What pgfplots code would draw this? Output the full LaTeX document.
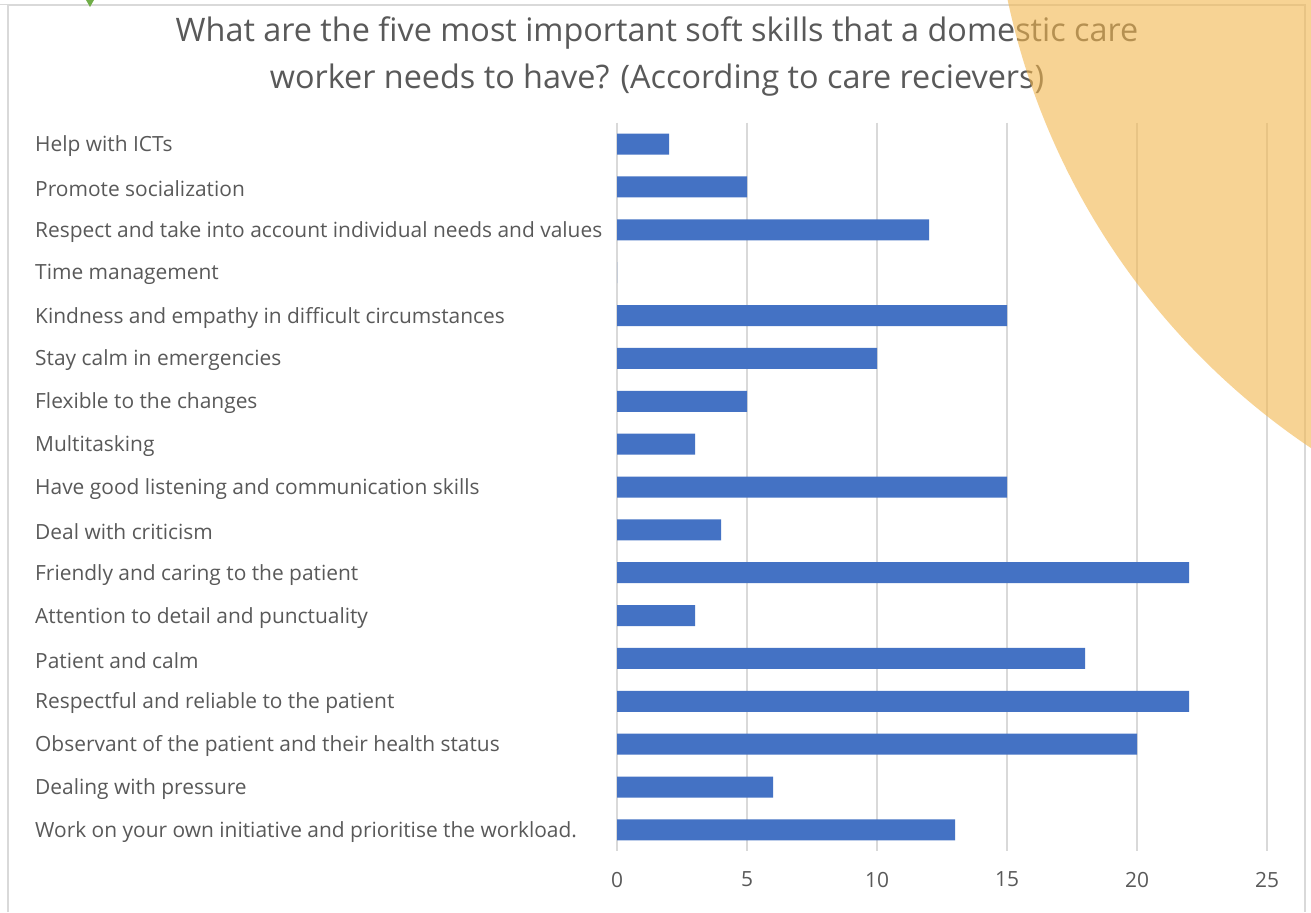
\documentclass[border=0pt]{standalone}
\usepackage{pgfplots}
\pgfplotsset{compat=1.18}
\usepackage{fontspec}
\setmainfont{Open Sans}
\definecolor{barblue}{RGB}{68,114,196}
\definecolor{txtgray}{RGB}{89,89,89}
\definecolor{gridgray}{RGB}{217,217,217}
\definecolor{circ}{RGB}{243,182,77}
\definecolor{greenmark}{RGB}{112,173,71}
\begin{document}
\begin{tikzpicture}[x=1bp,y=1bp]
\useasboundingbox (0,0) rectangle (1311,912);
\fill[white] (0,0) rectangle (1311,912);
\draw[gridgray,line width=1.5bp] (8,0) -- (8,907) -- (1305,907) -- (1305,0);
\draw[gridgray,line width=1bp] (0,907) -- (8,907);
\fill[greenmark] (86,912) -- (94,912) -- (90,905) -- cycle;
\node[txtgray,font=\fontsize{32.5}{47}\selectfont,align=center] at (657,855.5)
  {What are the five most important soft skills that a domestic care\\worker needs to have? (According to care recievers)};
\begin{axis}[
  scale only axis,
  width=650bp, height=728.8bp,
  at={(617bp,60.6bp)}, anchor=south west,
  xbar, bar width=21bp,
  xmin=0, xmax=25,
  ymin=-0.5, ymax=16.5,
  y dir=reverse,
  xtick={0,5,10,15,20,25},
  ytick={0,...,16},
  yticklabels={
    Help with ICTs,
    Promote socialization,
    Respect and take into account individual needs and values,
    Time management,
    Kindness and empathy in difficult circumstances,
    Stay calm in emergencies,
    Flexible to the changes,
    Multitasking,
    Have good listening and communication skills,
    Deal with criticism,
    Friendly and caring to the patient,
    Attention to detail and punctuality,
    Patient and calm,
    Respectful and reliable to the patient,
    Observant of the patient and their health status,
    Dealing with pressure,
    Work on your own initiative and prioritise the workload.},
  yticklabel style={anchor=west, xshift=-582bp, yshift=-2bp, inner sep=0pt, text=txtgray, font=\fontsize{21}{25}\selectfont},
  xticklabel style={text=txtgray, font=\fontsize{21}{25}\selectfont, yshift=-17bp},
  /pgf/number format/assume math mode=true,
  major tick length=0pt,
  xmajorgrids, grid style={gridgray, line width=1.5bp},
  axis line style={draw=none},
  clip=false,
]
\addplot[fill=barblue, draw=none] coordinates {
  (2,0) (5,1) (12,2) (0,3) (15,4) (10,5) (5,6) (3,7) (15,8) (4,9)
  (22,10) (3,11) (18,12) (22,13) (20,14) (6,15) (13,16)};
\end{axis}
\begin{scope}
\clip (0,0) rectangle (1311,912);
\fill[circ, opacity=0.6] (1712,1062) circle (720);
\end{scope}
\end{tikzpicture}
\end{document}
